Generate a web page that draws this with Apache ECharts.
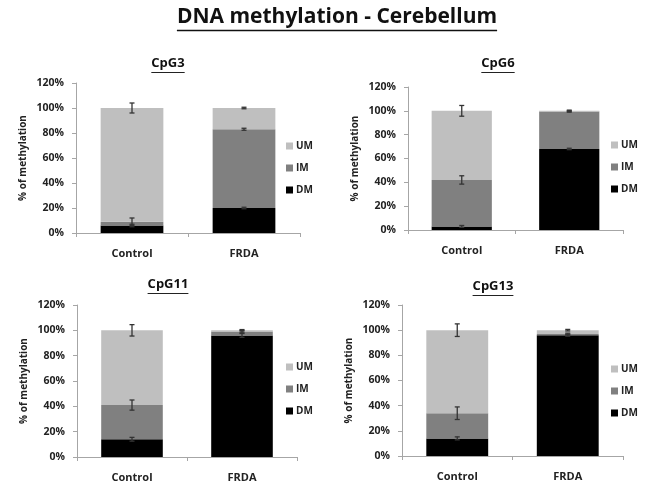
<!DOCTYPE html>
<html><head><meta charset="utf-8">
<script src="https://cdn.jsdelivr.net/npm/echarts@6/dist/echarts.min.js"></script>
<style>html,body{margin:0;padding:0;background:#fff}#c{width:653px;height:496px}</style>
</head><body><div id="c"></div>
<script>
// ---- data ----
const categories = ['Control', 'FRDA'];
const panelNames = ['CpG3', 'CpG6', 'CpG11', 'CpG13'];
const seriesNames = ['UM', 'IM', 'DM'];
const yTicks = [0, 20, 40, 60, 80, 100, 120];

// values (%), [Control, FRDA]
const CpG3_DM = [6, 20];
const CpG3_IM = [3, 63];
const CpG3_UM = [91, 17];
const CpG6_DM = [3, 68];
const CpG6_IM = [39, 31.5];
const CpG6_UM = [58, 0.5];
const CpG11_DM = [14, 96];
const CpG11_IM = [27, 3];
const CpG11_UM = [59, 1];
const CpG13_DM = [14, 96];
const CpG13_IM = [20, 1];
const CpG13_UM = [66, 3];

// error bars (+/- %), [Control, FRDA]
const CpG3_DM_err = [1, 0.6];
const CpG3_IM_err = [3, 0.8];
const CpG3_UM_err = [4, 0.6];
const CpG6_DM_err = [0.8, 0.6];
const CpG6_IM_err = [3.5, 0.6];
const CpG6_UM_err = [4.5, 0.6];
const CpG11_DM_err = [1.5, 1.5];
const CpG11_IM_err = [4, 1];
const CpG11_UM_err = [4.5, 0.6];
const CpG13_DM_err = [1.2, 0.8];
const CpG13_IM_err = [5, 0.6];
const CpG13_UM_err = [5, 0.6];

const panelData = [
  {DM: CpG3_DM, IM: CpG3_IM, UM: CpG3_UM, DMe: CpG3_DM_err, IMe: CpG3_IM_err, UMe: CpG3_UM_err},
  {DM: CpG6_DM, IM: CpG6_IM, UM: CpG6_UM, DMe: CpG6_DM_err, IMe: CpG6_IM_err, UMe: CpG6_UM_err},
  {DM: CpG11_DM, IM: CpG11_IM, UM: CpG11_UM, DMe: CpG11_DM_err, IMe: CpG11_IM_err, UMe: CpG11_UM_err},
  {DM: CpG13_DM, IM: CpG13_IM, UM: CpG13_UM, DMe: CpG13_DM_err, IMe: CpG13_IM_err, UMe: CpG13_UM_err}
];

// ---- layout ----
const FONT = '"Open Sans", "DejaVu Sans", sans-serif';
const colors = {UM: '#bfbfbf', IM: '#808080', DM: '#000000'};
const grids = [
  {left: 76, top: 83, width: 224, height: 150},
  {left: 408, top: 87, width: 215, height: 143},
  {left: 77, top: 305, width: 220, height: 152},
  {left: 402, top: 305, width: 221, height: 151}
];
const legendPos = [
  {left: 286, top: 141},
  {left: 611, top: 140},
  {left: 286, top: 362},
  {left: 611, top: 364}
];
const titlePos = [
  {x: 168, y: 65},
  {x: 498, y: 65},
  {x: 168, y: 286},
  {x: 493, y: 288}
];

const chart = echarts.init(document.getElementById('c'), null, {renderer: 'canvas'});

const ctx = document.createElement('canvas').getContext('2d');
function textW(txt, size, weight) {
  ctx.font = weight + ' ' + size + 'px ' + FONT;
  return ctx.measureText(txt).width;
}

const option = {
  backgroundColor: '#fff',
  animation: false,
  grid: grids,
  xAxis: grids.map((g, i) => ({
    type: 'category', gridIndex: i, data: categories,
    axisLine: {lineStyle: {color: '#a6a6a6', width: 1}},
    axisTick: {show: true, length: 4, lineStyle: {color: '#a6a6a6'}},
    axisLabel: {fontFamily: FONT, fontWeight: 'bold', fontSize: 11, color: '#222', margin: 15}
  })),
  yAxis: grids.map((g, i) => ({
    type: 'value', gridIndex: i, min: 0, max: 120, interval: 20,
    name: '% of methylation', nameLocation: 'middle', nameGap: 48, nameRotate: 90,
    nameTextStyle: {fontFamily: FONT, fontWeight: 'bold', fontSize: 10, color: '#222'},
    axisLine: {show: true, lineStyle: {color: '#a6a6a6', width: 1}},
    axisTick: {show: true, length: 4, lineStyle: {color: '#a6a6a6'}},
    splitLine: {show: false},
    axisLabel: {fontFamily: FONT, fontWeight: 'bold', fontSize: 10.5, color: '#222', margin: 12,
      formatter: v => yTicks.includes(v) ? v + '%' : ''}
  })),
  legend: legendPos.map(p => ({
    orient: 'vertical', left: p.left, top: p.top, data: seriesNames,
    icon: 'rect', itemWidth: 7, itemHeight: 7, itemGap: 12, padding: 0,
    selectedMode: false,
    textStyle: {fontFamily: FONT, fontWeight: 'bold', fontSize: 10, color: '#222', padding: [0, 0, 0, -2]}
  })),
  series: [],
  graphic: []
};

panelData.forEach((pd, i) => {
  ['DM', 'IM', 'UM'].forEach(name => {
    option.series.push({
      type: 'bar', name: name, stack: 's' + i, xAxisIndex: i, yAxisIndex: i,
      data: pd[name], barWidth: '56%',
      itemStyle: {color: colors[name]}
    });
  });
  // error bars at cumulative tops
  const errData = [];
  categories.forEach((c, ci) => {
    let cum = 0;
    ['DM', 'IM', 'UM'].forEach(name => {
      cum += pd[name][ci];
      const e = pd[name + 'e'][ci];
      errData.push([ci, cum - e, cum + e]);
    });
  });
  option.series.push({
    type: 'custom', xAxisIndex: i, yAxisIndex: i, z: 10,
    data: errData,
    renderItem: (params, api) => {
      const lo = api.coord([api.value(0), api.value(1)]);
      const hi = api.coord([api.value(0), api.value(2)]);
      const x = lo[0], w = 2.5;
      const st = {stroke: '#333', lineWidth: 1.3};
      return {type: 'group', children: [
        {type: 'line', shape: {x1: x, y1: lo[1], x2: x, y2: hi[1]}, style: st},
        {type: 'line', shape: {x1: x - w, y1: lo[1], x2: x + w, y2: lo[1]}, style: st},
        {type: 'line', shape: {x1: x - w, y1: hi[1], x2: x + w, y2: hi[1]}, style: st}
      ]};
    }
  });
  // subplot titles (underlined)
  const tp = titlePos[i];
  const w = textW(panelNames[i], 13, 'bold');
  option.graphic.push({type: 'text', left: tp.x - w / 2, top: tp.y - 8,
    style: {text: panelNames[i], font: 'bold 13px ' + FONT, fill: '#111'}});
  option.graphic.push({type: 'line', shape: {x1: tp.x - w / 2, y1: tp.y + 7.5, x2: tp.x + w / 2, y2: tp.y + 7.5},
    style: {stroke: '#222', lineWidth: 1}});
});

// main title
const mainTitle = 'DNA methylation - Cerebellum';
const mw = textW(mainTitle, 21, 'bold');
option.graphic.push({type: 'text', left: 337 - mw / 2, top: 7,
  style: {text: mainTitle, font: 'bold 21px ' + FONT, fill: '#111'}});
option.graphic.push({type: 'line', shape: {x1: 337 - mw / 2, y1: 30.5, x2: 337 + mw / 2, y2: 30.5},
  style: {stroke: '#111', lineWidth: 1.5}});

chart.setOption(option);
</script>
</body></html>
